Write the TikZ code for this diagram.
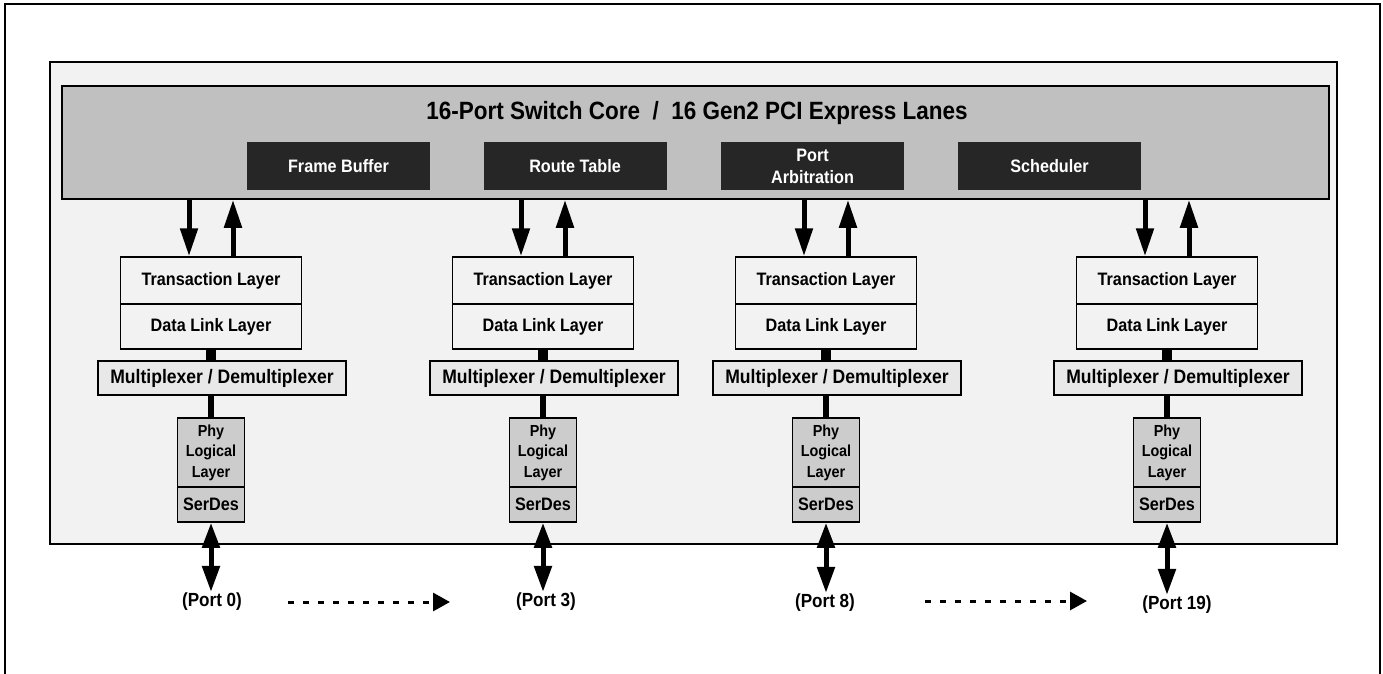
\documentclass[tikz,border=0pt]{standalone}
\usepackage{fontspec}
\setmainfont[FakeStretch=0.9]{Liberation Sans}
\usetikzlibrary{arrows.meta}

\definecolor{panelgray}{HTML}{F2F2F2}
\definecolor{coregray}{HTML}{C0C0C0}
\definecolor{blockdark}{HTML}{262626}
\definecolor{muxgray}{HTML}{E8E8E8}
\definecolor{phygray}{HTML}{CCCCCC}

\tikzset{
  layerbox/.style={draw, line width=1.5pt, fill=panelgray, minimum width=181pt, inner sep=0pt,
    font=\bfseries\fontsize{18}{20}\selectfont},
  muxbox/.style={draw, line width=1.5pt, fill=muxgray, minimum width=248pt, minimum height=34pt, inner sep=0pt,
    font=\bfseries\fontsize{19.5}{21}\selectfont},
  phybox/.style={draw, line width=1.5pt, fill=phygray, minimum width=67pt, inner sep=0pt, align=center},
  darkblock/.style={fill=blockdark, text=white, minimum width=183pt, minimum height=48pt, inner sep=0pt,
    align=center, font=\bfseries\fontsize{18}{22}\selectfont},
  portlabel/.style={inner sep=1pt, font=\bfseries\fontsize{19}{21}\selectfont},
  bigarrow/.style={line width=5pt, -{Triangle[length=28pt,width=17pt]}},
  dblarrow/.style={line width=5pt, {Triangle[length=25pt,width=17pt]}-{Triangle[length=26pt,width=17pt]}},
  dasharrow/.style={line width=3pt, dash pattern=on 6pt off 9pt, -{Triangle[length=17pt,width=18pt]}}
}

\begin{document}
\begin{tikzpicture}[x=1pt,y=-1pt]
\useasboundingbox (0,0) rectangle (1383,674);

\draw[line width=2pt] (5,674) -- (5,4) -- (1380,4) -- (1380,674);

\node[draw, line width=2.5pt, fill=panelgray, minimum width=1287pt, minimum height=482pt, inner sep=0pt] (panel) at (693.5,303) {};
\node[draw, line width=1.5pt, fill=coregray, minimum width=1267pt, minimum height=113pt, inner sep=0pt] (core) at (695.5,142.5) {};
\node[font=\bfseries\fontsize{25}{27}\selectfont] (title) at (697,113) {16-Port Switch Core~~/~~16 Gen2 PCI Express Lanes};

\node[darkblock] (fbuf) at (338.5,166) {Frame Buffer};
\node[darkblock] (rtab) at (575,166) {Route Table};
\node[darkblock] (parb) at (812.5,166) {Port\\Arbitration};
\node[darkblock] (sched) at (1049.5,166) {Scheduler};

\foreach \i/\cx in {1/211, 2/543, 3/826, 4/1167}{
  \node[layerbox, minimum height=47pt] (tl\i) at (\cx,280.5) {Transaction Layer};
  \node[layerbox, minimum height=45pt] (dl\i) at (\cx,326.5) {Data Link Layer};
  \node[muxbox] (mux\i) at (\cx+11,378) {Multiplexer / Demultiplexer};
  \node[phybox, minimum height=69pt, font=\bfseries\fontsize{16}{20.5}\selectfont] (phy\i) at (\cx,452.5) {Phy\\Logical\\Layer};
  \node[phybox, minimum height=35pt, font=\bfseries\fontsize{18}{20}\selectfont] (sd\i) at (\cx,504.5) {SerDes};
  \coordinate (dn\i) at (\cx-22,0);
  \coordinate (up\i) at (\cx+22,0);
  \draw[bigarrow] (core.south -| dn\i) -- (tl\i.north -| dn\i);
  \draw[bigarrow] (tl\i.north -| up\i) -- (core.south -| up\i);
  \draw[line width=10pt] (dl\i.south) -- (dl\i.south |- mux\i.north);
  \draw[line width=6pt] (phy\i.north |- mux\i.south) -- (phy\i.north);
}

\node[portlabel] (port1) at (212,602) {(Port 0)};
\node[portlabel] (port2) at (546,602) {(Port 3)};
\node[portlabel] (port3) at (825,603) {(Port 8)};
\node[portlabel] (port4) at (1177,605) {(Port 19)};

\foreach \i in {1,...,4}
  \draw[dblarrow] (sd\i.south) -- (sd\i.south |- port\i.north);

\coordinate (skipa) at (288,602);
\coordinate (skipb) at (450,602);
\coordinate (skipc) at (925,601);
\coordinate (skipd) at (1087,601);
\draw[dasharrow] (skipa) -- (skipb);
\draw[dasharrow] (skipc) -- (skipd);

\end{tikzpicture}
\end{document}
